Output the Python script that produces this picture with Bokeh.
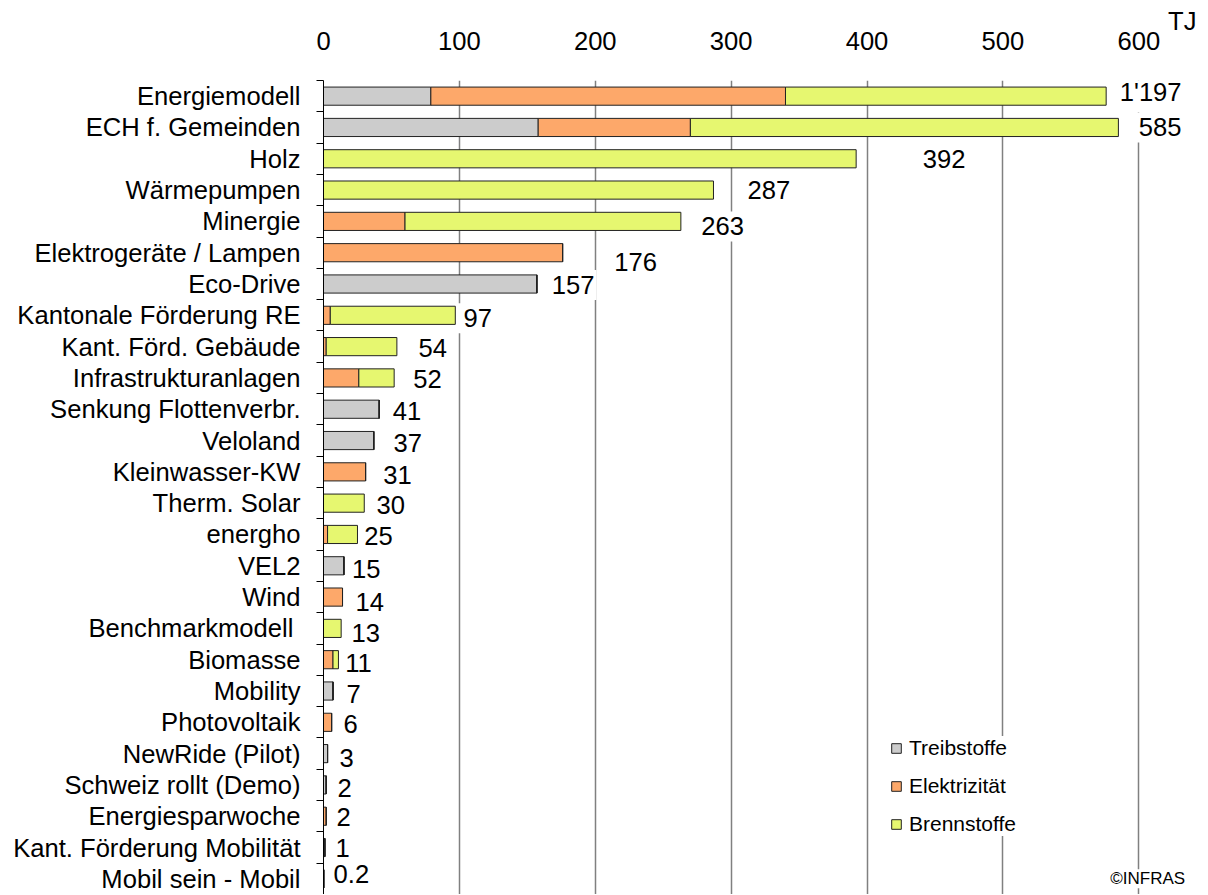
from bokeh.plotting import figure
from bokeh.models import ColumnDataSource, FixedTicker, Range1d, Label
from bokeh.core.properties import value
from bokeh.embed import file_html
from bokeh.resources import INLINE

# ---------------- data ----------------
categories = [
    "Energiemodell", "ECH f. Gemeinden", "Holz", "Wärmepumpen", "Minergie",
    "Elektrogeräte / Lampen", "Eco-Drive", "Kantonale Förderung RE",
    "Kant. Förd. Gebäude", "Infrastrukturanlagen", "Senkung Flottenverbr.",
    "Veloland", "Kleinwasser-KW", "Therm. Solar", "energho", "VEL2", "Wind",
    "Benchmarkmodell ", "Biomasse", "Mobility", "Photovoltaik",
    "NewRide (Pilot)", "Schweiz rollt (Demo)", "Energiesparwoche",
    "Kant. Förderung Mobilität", "Mobil sein - Mobil",
]
# displayed segment lengths (TJ); the Energiemodell bar is cut at the axis end
treibstoffe = [79, 158, 0, 0, 0, 0, 157, 0, 0, 0, 41, 37, 0, 0, 0, 15, 0, 0, 0, 7, 0, 3, 2, 0, 1, 0.2]
elektrizitaet = [261, 112, 0, 0, 60, 176, 0, 5, 2, 26, 0, 0, 31, 0, 3, 0, 14, 0, 7, 0, 6, 0, 0, 2, 0, 0]
brennstoffe = [236, 315, 392, 287, 203, 0, 0, 92, 52, 26, 0, 0, 0, 30, 22, 0, 0, 13, 4, 0, 0, 0, 0, 0, 0, 0]
totals_text = ["1'197", "585", "392", "287", "263", "176", "157", "97", "54", "52",
               "41", "37", "31", "30", "25", "15", "14", "13", "11", "7", "6",
               "3", "2", "2", "1", "0.2"]
x_ticks = [0, 100, 200, 300, 400, 500, 600]
unit_label = "TJ"
series_names = ["Treibstoffe", "Elektrizität", "Brennstoffe"]

# ---------------- layout (label placement) ----------------
label_left = [586, 600, 441, 312, 278, 214, 168, 103, 70, 66, 51, 51.5, 44, 39,
              30, 21, 23.5, 20.6, 16, 17, 14.7, 11.8, 10.3, 9.6, 8.8, 7.4]
label_dy_px = [-4, 0, 0, 0, 5, 9, 1, 3, 1, 1, 2, 2, 3, 2, 2, 3, 5, 5, 3, 3, 2, 4, 3, 1, 0, -5]
unit_pos = 632

n = len(categories)
rows = list(range(n))
PX_PER_TJ = 1.3588
FRAME_W, FRAME_H = 880, 814
row_px = FRAME_H / n
label_y = [r + d / row_px for r, d in zip(rows, label_dy_px)]

colors = ["#cccccc", "#fda86a", "#e6f770"]
FONT = "Liberation Sans"
FS = "25.6px"

src = ColumnDataSource(dict(row=rows, Treibstoffe=treibstoffe,
                            Elektrizität=elektrizitaet, Brennstoffe=brennstoffe))
lab_src = ColumnDataSource(dict(x=label_left, y=label_y, t=totals_text))

p = figure(frame_width=FRAME_W, frame_height=FRAME_H,
           x_range=Range1d(0, FRAME_W / PX_PER_TJ), y_range=Range1d(n - 0.5, -0.5),
           x_axis_location="above", y_axis_location="left",
           output_backend="svg", toolbar_location=None,
           min_border_left=323, min_border_top=80, min_border_right=0, min_border_bottom=0)
p.outline_line_color = None
p.background_fill_color = "white"

# top axis (values + unit)
xa = p.xaxis[0]
xa.ticker = FixedTicker(ticks=x_ticks + [unit_pos])
xa.major_label_overrides = {unit_pos: unit_label + "\n "}
xa.axis_line_color = None
xa.major_tick_line_color = None
xa.minor_tick_line_color = None
xa.major_label_text_font = FONT
xa.major_label_text_font_size = FS
xa.major_label_text_color = "black"
xa.major_label_text_line_height = 0.7
xa.major_label_standoff = 20

# left axis
ya = p.yaxis[0]
ya.ticker = FixedTicker(ticks=rows, minor_ticks=[r - 0.5 for r in range(n + 1)])
ya.major_label_overrides = {r: c for r, c in zip(rows, categories)}
ya.major_tick_out = 0
ya.major_tick_in = 0
ya.minor_tick_out = 7
ya.minor_tick_in = 0
ya.minor_tick_line_color = "black"
ya.axis_line_color = "black"
ya.major_label_standoff = 16
ya.major_label_text_font = FONT
ya.major_label_text_font_size = FS
ya.major_label_text_color = "black"

p.ygrid.grid_line_color = None
p.xgrid.ticker = FixedTicker(ticks=x_ticks[1:])
p.xgrid.grid_line_color = "#808080"
p.xgrid.grid_line_width = 1.5

p.hbar_stack(series_names, y="row", height=0.58, color=colors,
             line_color="#222222", line_width=1, source=src,
             legend_label=series_names)

p.text(x="x", y="y", text="t", source=lab_src, text_align="left",
       text_baseline="middle", text_font=value(FONT), text_font_size=value(FS),
       text_color="black", background_fill_color="white", x_offset=-6,
       padding=dict(left=6, right=2, top=6, bottom=6))

p.add_layout(Label(x=579, y=25.0, text="©INFRAS", text_font=FONT, text_font_size="17px",
                   text_baseline="middle", text_color="black",
                   background_fill_color="white"))

lg = p.legend[0]
lg.location = (567, 58)
lg.background_fill_color = "white"
lg.background_fill_alpha = 1
lg.border_line_color = None
lg.padding = 28
lg.spacing = 14
lg.glyph_width = 12
lg.glyph_height = 12
lg.label_height = 20
lg.label_standoff = 7
lg.label_text_font = FONT
lg.label_text_font_size = "21px"
lg.label_text_color = "black"

open("out.html", "w").write(file_html(p, INLINE))
